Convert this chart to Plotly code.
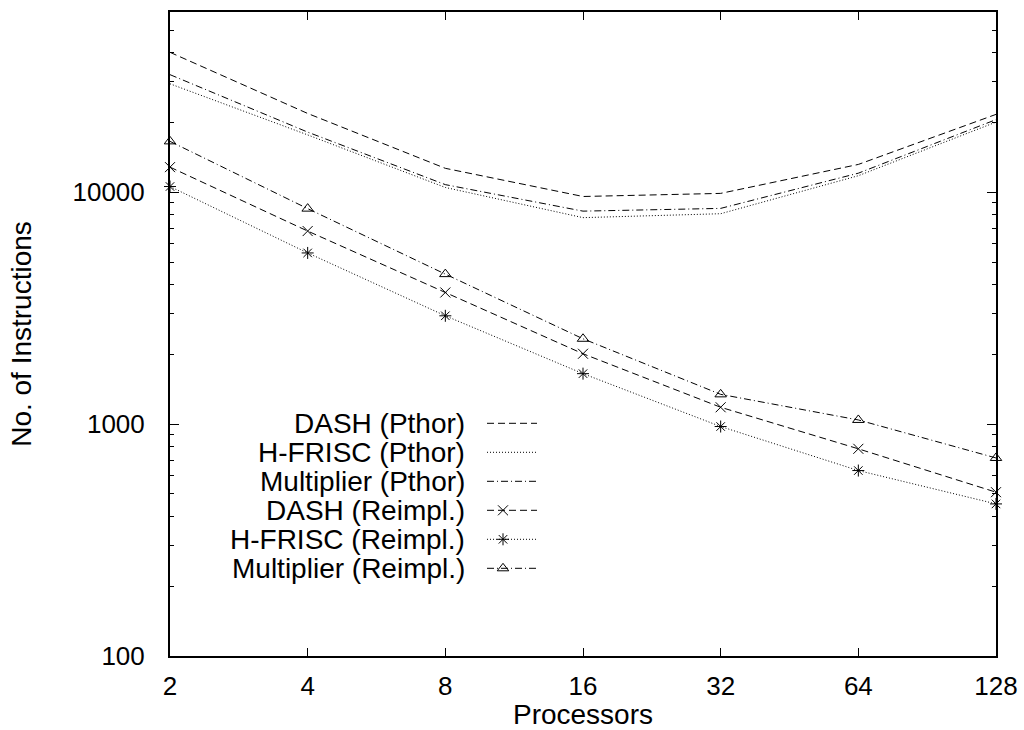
import math
import plotly.graph_objects as go

# ---- data ----
procs = [2, 4, 8, 16, 32, 64, 128]
dash_pthor = [40200, 21900, 12700, 9600, 9900, 13200, 21700]
hfrisc_pthor = [29400, 17700, 10500, 7780, 8090, 11800, 20100]
mult_pthor = [32200, 18200, 10800, 8300, 8530, 12100, 20600]
dash_reimpl = [12850, 6810, 3700, 2013, 1183, 783, 509]
hfrisc_reimpl = [10600, 5480, 2935, 1652, 977, 631, 453]
mult_reimpl = [16600, 8510, 4440, 2336, 1345, 1043, 715]

x_ticks = [2, 4, 8, 16, 32, 64, 128]
y_ticks = [100, 1000, 10000]
y_minor = [200, 300, 400, 500, 600, 700, 800, 900,
           2000, 3000, 4000, 5000, 6000, 7000, 8000, 9000,
           20000, 30000, 40000, 50000]

series_names = ["DASH (Pthor)", "H-FRISC (Pthor)", "Multiplier (Pthor)",
                "DASH (Reimpl.)", "H-FRISC (Reimpl.)", "Multiplier (Reimpl.)"]
series_values = [dash_pthor, hfrisc_pthor, mult_pthor,
                 dash_reimpl, hfrisc_reimpl, mult_reimpl]

# ---- styles ----
DASH = "7px,4px"
DOT = "1px,2px"
DASHDOT = "7px,3px,1px,3px"
styles = [
    dict(dash=DASH, symbol=None),
    dict(dash=DOT, symbol=None),
    dict(dash=DASHDOT, symbol=None),
    dict(dash=DASH, symbol="x-thin-open"),
    dict(dash=DOT, symbol="asterisk-open"),
    dict(dash=DASHDOT, symbol="triangle-up-open"),
]

FONT = "Liberation Sans, Arial, Helvetica, sans-serif"
FS_TICK = 26
FS_TEXT = 28

# plot-area geometry in pixels
W, H = 1024, 730
L, R, T, B = 170, 28, 12, 74
PX0, PX1 = L, W - R
PY0, PY1 = T, H - B

EPS = 1e-6

fig = go.Figure()

for name, vals, st in zip(series_names, series_values, styles):
    mode = "lines+markers" if st["symbol"] else "lines"
    kw = dict(
        x=procs, y=vals, mode=mode, name=name, showlegend=False,
        line=dict(color="black", width=1, dash=st["dash"]),
        cliponaxis=False,
    )
    if st["symbol"]:
        kw["marker"] = dict(symbol=st["symbol"], size=10, color="black",
                            line=dict(color="black", width=1))
    fig.add_trace(go.Scatter(**kw))

# ---- legend (text right-aligned, sample to the right) ----
leg_text_right = 467
leg_row0 = 423.3
leg_step = 29.0
leg_line = (487, 537)
leg_marker_x = 503

for i, (name, st) in enumerate(zip(series_names, styles)):
    yc = leg_row0 + i * leg_step
    fig.add_annotation(
        x=leg_text_right, y=yc, xref="x2", yref="y2", text=name,
        showarrow=False, xanchor="right", yanchor="middle",
        font=dict(family=FONT, size=FS_TEXT, color="black"),
    )
    fig.add_trace(go.Scatter(
        x=list(leg_line), y=[yc, yc], xaxis="x2", yaxis="y2", mode="lines",
        line=dict(color="black", width=1, dash=st["dash"]),
        showlegend=False, hoverinfo="skip",
    ))
    if st["symbol"]:
        fig.add_trace(go.Scatter(
            x=[leg_marker_x], y=[yc], xaxis="x2", yaxis="y2", mode="markers",
            marker=dict(symbol=st["symbol"], size=10, color="black",
                        line=dict(color="black", width=1)),
            showlegend=False, hoverinfo="skip",
        ))

tick_font = dict(family=FONT, size=FS_TICK, color="black")
title_font = dict(family=FONT, size=FS_TEXT, color="black")

fig.update_layout(
    width=W, height=H,
    margin=dict(l=L, r=R, t=T, b=B, pad=0),
    paper_bgcolor="white", plot_bgcolor="white",
    font=dict(family=FONT, size=FS_TICK, color="black"),
    showlegend=False,
    xaxis=dict(
        type="log", range=[math.log10(2) - EPS, math.log10(128) + EPS],
        tickmode="array", tickvals=x_ticks, ticktext=[str(v) for v in x_ticks],
        ticks="inside", ticklen=8, tickwidth=1, tickcolor="black",
        showline=True, linecolor="black", linewidth=2, mirror="ticks",
        showgrid=False, zeroline=False, tickfont=tick_font,
        ticklabelstandoff=6,
        title=dict(text="Processors", font=title_font, standoff=3),
        automargin=False,
    ),
    yaxis=dict(
        type="log", range=[2, math.log10(60000)],
        tickmode="array", tickvals=y_ticks, ticktext=[str(v) for v in y_ticks],
        ticks="inside", ticklen=9, tickwidth=1, tickcolor="black",
        minor=dict(tickmode="array", tickvals=y_minor, ticks="inside",
                   ticklen=4, tickwidth=1, tickcolor="black", showgrid=False),
        showline=True, linecolor="black", linewidth=2, mirror="ticks",
        showgrid=False, zeroline=False, tickfont=tick_font,
        ticklabelstandoff=18,
        title=dict(text="No. of Instructions", font=title_font, standoff=33),
        automargin=False,
    ),
    xaxis2=dict(range=[PX0, PX1], overlaying="x", visible=False,
                fixedrange=True),
    yaxis2=dict(range=[PY1, PY0], overlaying="y", visible=False,
                fixedrange=True),
)

fig.write_html("out.html")
